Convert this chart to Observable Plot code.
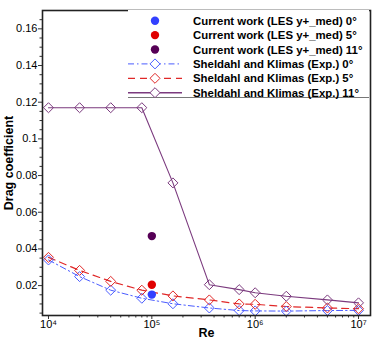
<!DOCTYPE html>
<html><head><meta charset="utf-8">
<script src="https://cdn.jsdelivr.net/npm/d3@7"></script>
<script src="https://cdn.jsdelivr.net/npm/@observablehq/plot@0.6"></script>
<style>
body{margin:0;background:#fff;}
#wrap{position:relative;width:382px;height:340px;font-family:"Liberation Sans",Arial,Helvetica,sans-serif;}
#legend{position:absolute;left:128px;top:10px;overflow:visible;}
</style></head><body><div id="wrap"></div>
<script>
// Reynolds numbers of the Sheldahl & Klimas data
const re = [1e4, 2e4, 4e4, 8e4, 1.6e5, 3.6e5, 7e5, 1e6, 2e6, 5e6, 1e7];
const cdExp0  = [0.0340, 0.0249, 0.0175, 0.0131, 0.0101, 0.0078, 0.0064, 0.0062, 0.0061, 0.0064, 0.0065];
const cdExp5  = [0.0354, 0.0283, 0.0223, 0.0175, 0.0144, 0.0122, 0.0100, 0.0098, 0.0086, 0.0078, 0.0074];
const cdExp11 = [0.1170, 0.1170, 0.1170, 0.1170, 0.0760, 0.0205, 0.0178, 0.0161, 0.0142, 0.0122, 0.0106];
// Current work (LES) at Re = 1e5
const lesRe = [1e5, 1e5, 1e5];
const lesCd = [0.0151, 0.0205, 0.0470];
const lesAngle = ["0°", "5°", "11°"];
// tick values
const yMajor = [0.02, 0.04, 0.06, 0.08, 0.10, 0.12, 0.14, 0.16];
const yMinor = [0.005,0.01,0.015,0.025,0.03,0.035,0.045,0.05,0.055,0.065,0.07,0.075,0.085,0.09,0.095,0.105,0.11,0.115,0.125,0.13,0.135,0.145,0.15,0.155,0.165];
const xMajor = [1e4, 1e5, 1e6, 1e7];
const xMajorLabels = ["10⁴", "10⁵", "10⁶", "10⁷"];
const xMinor = [2e4,3e4,4e4,5e4,6e4,7e4,8e4,9e4,2e5,3e5,4e5,5e5,6e5,7e5,8e5,9e5,2e6,3e6,4e6,5e6,6e6,7e6,8e6,9e6];
const legendLabels = [
  "Current work (LES y+_med) 0°",
  "Current work (LES y+_med) 5°",
  "Current work (LES y+_med) 11°",
  "Sheldahl and Klimas (Exp.) 0°",
  "Sheldahl and Klimas (Exp.) 5°",
  "Sheldahl and Klimas (Exp.) 11°"
];

const colBlue = "#3340ff", colRed = "#e00000", colPurp = "#560056";
const lBlue = "#4a5cff", lRed = "#e02828", lPurp = "#7b3a7e";

const exp0 = re.map((r,i)=>({re:r, cd:cdExp0[i]}));
const exp5 = re.map((r,i)=>({re:r, cd:cdExp5[i]}));
const exp11 = re.map((r,i)=>({re:r, cd:cdExp11[i]}));
const les = lesRe.map((r,i)=>({re:r, cd:lesCd[i], a:lesAngle[i]}));
const lesColors = [colBlue, colRed, colPurp];

const fmtY = d => String(+d.toFixed(2));

const plot = Plot.plot({
  width: 382, height: 340,
  marginLeft: 42, marginRight: 12, marginTop: 10, marginBottom: 25,
  style: {fontFamily: "Liberation Sans, Arial, Helvetica, sans-serif", fontSize: "11px", background: "#fff", color: "#000"},
  x: {type: "log", domain: [8750, 1.306e7]},
  y: {domain: [0.0037, 0.17]},
  marks: [
    Plot.axisY(yMinor, {tickSize: 2.5, tickFormat: () => "", label: null, stroke: "#333"}),
    Plot.axisY(yMajor, {tickSize: 4, tickPadding: 1, tickFormat: fmtY, label: "Drag coefficient", labelAnchor: "center", labelArrow: "none", labelOffset: 38, stroke: "#333"}),
    Plot.axisX(xMinor, {tickSize: 2.5, tickFormat: () => "", label: null, stroke: "#333"}),
    Plot.axisX(xMajor, {tickSize: 4, tickPadding: 1, tickFormat: (d) => xMajorLabels[xMajor.indexOf(d)], label: "Re", labelAnchor: "center", labelArrow: "none", labelOffset: 21, stroke: "#333"}),
    Plot.line(exp0, {x: "re", y: "cd", stroke: lBlue, strokeWidth: 1, strokeDasharray: "6,3,1.5,3"}),
    Plot.line(exp5, {x: "re", y: "cd", stroke: lRed, strokeWidth: 1.2, strokeDasharray: "7,5"}),
    Plot.line(exp11, {x: "re", y: "cd", stroke: lPurp, strokeWidth: 1.1}),
    Plot.dot(exp0, {x: "re", y: "cd", symbol: "diamond2", r: 4.5, stroke: lBlue, strokeWidth: 1, fill: "none"}),
    Plot.dot(exp5, {x: "re", y: "cd", symbol: "diamond2", r: 4.5, stroke: lRed, strokeWidth: 1, fill: "none"}),
    Plot.dot(exp11, {x: "re", y: "cd", symbol: "diamond2", r: 4.5, stroke: lPurp, strokeWidth: 1, fill: "none"}),
    Plot.dot(les, {x: "re", y: "cd", r: 4.2, fill: (d,i) => lesColors[i], stroke: "none"}),
    Plot.frame({stroke: "#222", strokeWidth: 1.6})
  ]
});
d3.select(plot).selectAll('[aria-label="x-axis label"] text, [aria-label="y-axis label"] text')
  .attr("font-weight", "bold").attr("font-size", "12.5px");
document.getElementById("wrap").appendChild(plot);

// legend overlay
const lw = 241, lh = 88, rowH = 14.4, row0 = 10.7;
const leg = d3.select("#wrap").append("svg").attr("id", "legend").attr("width", lw).attr("height", lh)
  .style("background", "#fff");
leg.append("line").attr("x1", 0).attr("x2", lw).attr("y1", lh - 0.5).attr("y2", lh - 0.5).attr("stroke", "#777").attr("stroke-width", 1);
const styles = [
  {type: "dot", c: colBlue}, {type: "dot", c: colRed}, {type: "dot", c: colPurp},
  {type: "line", c: lBlue, dash: "6,3,1.5,3", w: 1}, {type: "line", c: lRed, dash: "7,5", w: 1.2}, {type: "line", c: lPurp, dash: null, w: 1.6}
];
const diamond = d3.symbol(d3.symbolDiamond2, Math.PI * 4.5 * 4.5)();
legendLabels.forEach((t, i) => {
  const y = row0 + i * rowH, s = styles[i];
  if (s.type === "dot") {
    leg.append("circle").attr("cx", 27).attr("cy", y).attr("r", 4.2).attr("fill", s.c);
  } else {
    leg.append("line").attr("x1", 0).attr("x2", 54).attr("y1", y).attr("y2", y)
      .attr("stroke", s.c).attr("stroke-width", s.w).attr("stroke-dasharray", s.dash);
    leg.append("path").attr("d", diamond).attr("transform", `translate(27,${y})`)
      .attr("fill", "#fff").attr("stroke", s.c).attr("stroke-width", 1);
  }
  leg.append("text").attr("x", 65).attr("y", y).attr("dy", "0.36em")
    .attr("font-family", "Liberation Sans, Arial, Helvetica, sans-serif")
    .attr("font-weight", "bold").attr("font-size", "11.4px").text(t);
});
</script></body></html>
